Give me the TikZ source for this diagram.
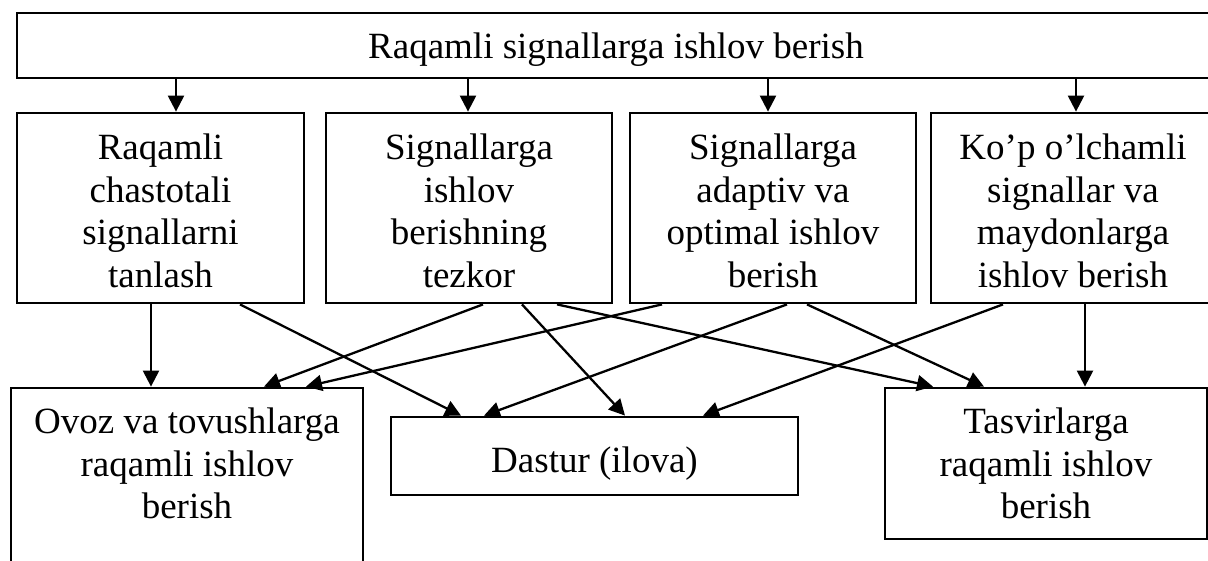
\documentclass[tikz,border=0pt]{standalone}
\usepackage{fontspec}
\setmainfont{Liberation Serif}
\usetikzlibrary{arrows.meta}
\begin{document}
\begin{tikzpicture}[x=1pt,y=-1pt,
  box/.style={draw,line width=2.8pt,inner sep=0pt},
  txt/.style={inner sep=0pt,align=center,font=\fontsize{37}{42.5}\selectfont},
  arr/.style={line width=2.3pt,-{Triangle[length=16pt,width=16pt]}}]
\useasboundingbox (0,0) rectangle (1208,560);
\clip (0,0) rectangle (1208,560);
\node[box,minimum width=1198pt,minimum height=65pt] (top) at (616,45.5) {};
\node[txt] (topt) at ([yshift=-4pt]top.center) {Raqamli signallarga ishlov berish};
\node[box,minimum width=287pt,minimum height=190pt] (b1) at (160.5,208) {};
\node[txt] (b1t) at ([yshift=-3pt]b1.center) {Raqamli\\chastotali\\signallarni\\tanlash};
\node[box,minimum width=286pt,minimum height=190pt] (b2) at (469,208) {};
\node[txt] (b2t) at ([yshift=-3pt]b2.center) {Signallarga\\ishlov\\berishning\\tezkor};
\node[box,minimum width=286pt,minimum height=190pt] (b3) at (773,208) {};
\node[txt] (b3t) at ([yshift=-3pt]b3.center) {Signallarga\\adaptiv va\\optimal ishlov\\berish};
\node[box,minimum width=284pt,minimum height=190pt] (b4) at (1073,208) {};
\node[txt] (b4t) at ([yshift=-3pt]b4.center) {Ko’p o’lchamli\\signallar va\\maydonlarga\\ishlov berish};
\node[box,minimum width=352pt,minimum height=202pt] (ovoz) at (187,489) {};
\node[txt] (ovozt) at (187,463.5) {Ovoz va tovushlarga\\raqamli ishlov\\berish};
\node[box,minimum width=407pt,minimum height=78pt] (dastur) at (594.5,456) {};
\node[txt] (dasturt) at ([yshift=-8pt]dastur.center) {Dastur (ilova)};
\node[box,minimum width=322pt,minimum height=151pt] (tasvir) at (1046,463.5) {};
\node[txt] (tasvirt) at (tasvir.center) {Tasvirlarga\\raqamli ishlov\\berish};
% top to second row
\draw[arr] (top.south -| 176,0) -- (b1.north -| 176,0);
\draw[arr] (top.south -| 468,0) -- (b2.north -| 468,0);
\draw[arr] (top.south -| 768,0) -- (b3.north -| 768,0);
\draw[arr] (top.south -| 1076,0) -- (b4.north -| 1076,0);
% second row to third row
\draw[arr] (b1.south -| 151,0) -- (ovoz.north -| 151,0);
\draw[arr] (b1.south -| 240,0) -- (dastur.north -| 461,0);
\draw[arr] (b2.south -| 483,0) -- (ovoz.north -| 264,0);
\draw[arr] (b2.south -| 522,0) -- (dastur.north -| 625,0);
\draw[arr] (b2.south -| 557,0) -- (tasvir.north -| 933,0);
\draw[arr] (b3.south -| 662,0) -- (ovoz.north -| 306,0);
\draw[arr] (b3.south -| 787,0) -- (dastur.north -| 484,0);
\draw[arr] (b3.south -| 807,0) -- (tasvir.north -| 984,0);
\draw[arr] (b4.south -| 1003,0) -- (dastur.north -| 703,0);
\draw[arr] (b4.south -| 1085,0) -- (tasvir.north -| 1085,0);
\end{tikzpicture}
\end{document}
